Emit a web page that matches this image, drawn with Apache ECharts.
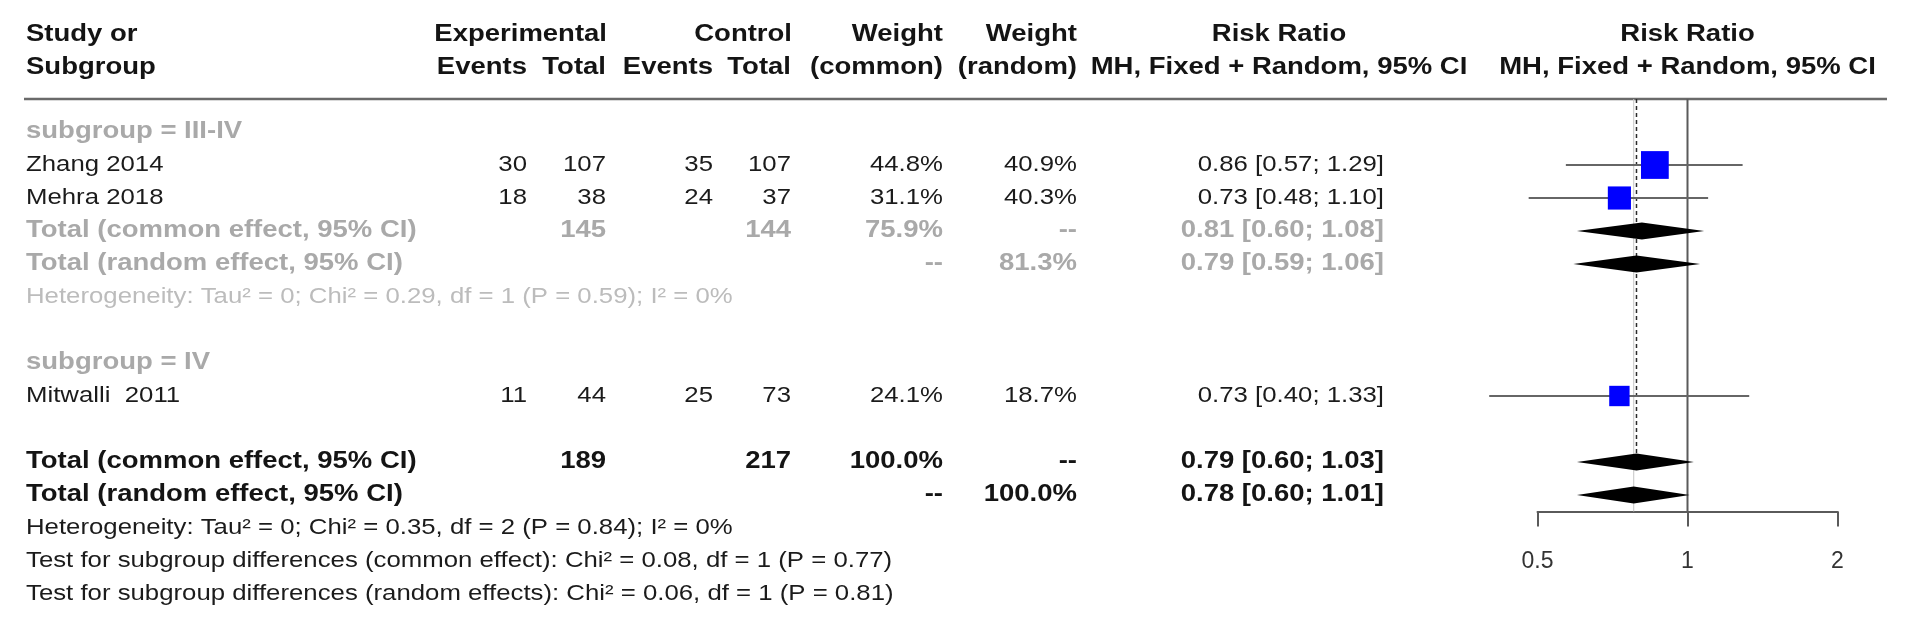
<!DOCTYPE html>
<html><head><meta charset="utf-8">
<script src="https://cdn.jsdelivr.net/npm/echarts@6/dist/echarts.min.js"></script>
<style>html,body{margin:0;padding:0;background:#fff}#c{width:1906px;height:630px}</style>
</head><body><div id="c"></div>
<script>
// ---------------- data ----------------
const headerTop = ['Study or', 'Experimental', 'Control', 'Weight', 'Weight', 'Risk Ratio', 'Risk Ratio'];
const headerBottom = ['Subgroup', 'Events', 'Total', 'Events', 'Total', '(common)', '(random)', 'MH, Fixed + Random, 95% CI', 'MH, Fixed + Random, 95% CI'];

const subgroupNames = ['subgroup = III-IV', 'subgroup = IV'];
const studies = ['Zhang 2014', 'Mehra 2018', 'Mitwalli  2011'];
const studySubgroup = [0, 0, 1];
const expEvents = [30, 18, 11];
const expTotal = [107, 38, 44];
const ctrlEvents = [35, 24, 25];
const ctrlTotal = [107, 37, 73];
const weightCommon = [44.8, 31.1, 24.1];
const weightRandom = [40.9, 40.3, 18.7];
const rr = [0.86, 0.73, 0.73];
const rrLower = [0.57, 0.48, 0.40];
const rrUpper = [1.29, 1.10, 1.33];

// pooled results of subgroup III-IV
const subExpTotal = [145];
const subCtrlTotal = [144];
const subWeightCommon = [75.9];
const subWeightRandom = [81.3];
const subCommon = [0.81, 0.60, 1.08];
const subRandom = [0.79, 0.59, 1.06];
const subHeterogeneity = 'Heterogeneity: Tau² = 0; Chi² = 0.29, df = 1 (P = 0.59); I² = 0%';

// overall
const totalExp = 189;
const totalCtrl = 217;
const totalWeight = [100.0, 100.0];
const overallCommon = [0.79, 0.60, 1.03];
const overallRandom = [0.78, 0.60, 1.01];
const footnotes = [
  'Heterogeneity: Tau² = 0; Chi² = 0.35, df = 2 (P = 0.84); I² = 0%',
  'Test for subgroup differences (common effect): Chi² = 0.08, df = 1 (P = 0.77)',
  'Test for subgroup differences (random effects): Chi² = 0.06, df = 1 (P = 0.81)'
];
const xTicks = [0.5, 1, 2];

// ---------------- layout ----------------
const FONT = '"Liberation Sans", Arial, Helvetica, sans-serif';
const X = {label: 26, expE: 527, expT: 606, ctlE: 713, ctlT: 791, wC: 943, wR: 1077,
           rrTxt: 1384, rrHead: 1279, plotHead: 1687.5, expHead: 607, ctlHead: 792};
const STY = {
  b:  {color: '#141414', size: 23.5, weight: 'bold',   sx: 1.17},
  n:  {color: '#1b1b1b', size: 22.5, weight: 'normal', sx: 1.145},
  gb: {color: '#a9a9a9', size: 23.5, weight: 'bold',   sx: 1.17},
  gl: {color: '#bcbcbc', size: 22.5, weight: 'normal', sx: 1.145}
};
const fmtRR = a => a[0].toFixed(2) + ' [' + a[1].toFixed(2) + '; ' + a[2].toFixed(2) + ']';
const fmtW = w => w.toFixed(1) + '%';

const cells = [];
const add = (x, row, text, align, kind) => cells.push({x, row, text: String(text), align, kind});

// header
const H1 = -2.94, H2 = -1.94;
const top_x = [X.label, X.expHead, X.ctlHead, X.wC, X.wR, X.rrHead, X.plotHead];
const top_a = ['left', 'right', 'right', 'right', 'right', 'center', 'center'];
headerTop.forEach((t, i) => add(top_x[i], H1, t, top_a[i], 'b'));
const bot_x = [X.label, X.expE, X.expT, X.ctlE, X.ctlT, X.wC, X.wR, X.rrHead, X.plotHead];
const bot_a = ['left', 'right', 'right', 'right', 'right', 'right', 'right', 'center', 'center'];
headerBottom.forEach((t, i) => add(bot_x[i], H2, t, bot_a[i], 'b'));

// body rows
const studyRow = [], subRows = [];
let r = 0;
subgroupNames.forEach((g, gi) => {
  add(X.label, r, g, 'left', 'gb'); r++;
  studies.forEach((s, i) => {
    if (studySubgroup[i] !== gi) return;
    studyRow[i] = r;
    add(X.label, r, s, 'left', 'n');
    add(X.expE, r, expEvents[i], 'right', 'n');
    add(X.expT, r, expTotal[i], 'right', 'n');
    add(X.ctlE, r, ctrlEvents[i], 'right', 'n');
    add(X.ctlT, r, ctrlTotal[i], 'right', 'n');
    add(X.wC, r, fmtW(weightCommon[i]), 'right', 'n');
    add(X.wR, r, fmtW(weightRandom[i]), 'right', 'n');
    add(X.rrTxt, r, fmtRR([rr[i], rrLower[i], rrUpper[i]]), 'right', 'n');
    r++;
  });
  if (gi === 0) {
    add(X.label, r, 'Total (common effect, 95% CI)', 'left', 'gb');
    add(X.expT, r, subExpTotal[0], 'right', 'gb');
    add(X.ctlT, r, subCtrlTotal[0], 'right', 'gb');
    add(X.wC, r, fmtW(subWeightCommon[0]), 'right', 'gb');
    add(X.wR, r, '--', 'right', 'gb');
    add(X.rrTxt, r, fmtRR(subCommon), 'right', 'gb');
    subRows.push({row: r, v: subCommon}); r++;
    add(X.label, r, 'Total (random effect, 95% CI)', 'left', 'gb');
    add(X.wC, r, '--', 'right', 'gb');
    add(X.wR, r, fmtW(subWeightRandom[0]), 'right', 'gb');
    add(X.rrTxt, r, fmtRR(subRandom), 'right', 'gb');
    subRows.push({row: r, v: subRandom}); r++;
    add(X.label, r, subHeterogeneity, 'left', 'gl'); r++;
  }
  r++;
});
const commonRow = r;
add(X.label, r, 'Total (common effect, 95% CI)', 'left', 'b');
add(X.expT, r, totalExp, 'right', 'b');
add(X.ctlT, r, totalCtrl, 'right', 'b');
add(X.wC, r, fmtW(totalWeight[0]), 'right', 'b');
add(X.wR, r, '--', 'right', 'b');
add(X.rrTxt, r, fmtRR(overallCommon), 'right', 'b');
r++;
const randomRow = r;
add(X.label, r, 'Total (random effect, 95% CI)', 'left', 'b');
add(X.wC, r, '--', 'right', 'b');
add(X.wR, r, fmtW(totalWeight[1]), 'right', 'b');
add(X.rrTxt, r, fmtRR(overallRandom), 'right', 'b');
r++;
footnotes.forEach(f => { add(X.label, r, f, 'left', 'n'); r++; });

// forest mark data
const DIAMOND_H = 8.5;
const diamonds = subRows.map(s => [s.v[0], s.v[1], s.v[2], s.row])
  .concat([[overallCommon[0], overallCommon[1], overallCommon[2], commonRow],
           [overallRandom[0], overallRandom[1], overallRandom[2], randomRow]]);
const ciData = studies.map((s, i) => [rrLower[i], rrUpper[i], studyRow[i]]);
const sqData = studies.map((s, i) => [rr[i], studyRow[i], weightCommon[i]]);
const ROW_MIN = -1, ROW_MAX = 11.5;
const refData = [
  [overallRandom[0], ROW_MIN, ROW_MAX, 'light'],
  [overallCommon[0], ROW_MIN, commonRow - DIAMOND_H / 33, 'dash'],
  [1, ROW_MIN, ROW_MAX, 'solid']
];

// ---------------- chart ----------------
const chart = echarts.init(document.getElementById('c'), null, {renderer: 'canvas'});
const yAx = gi => ({type: 'value', gridIndex: gi, inverse: true, min: ROW_MIN, max: ROW_MAX, show: false});
chart.setOption({
  animation: false,
  backgroundColor: '#ffffff',
  grid: [
    {left: 1537.5, width: 300, top: 99, height: 412.5, outerBoundsMode: 'none'},
    {left: 0, width: 1906, top: 99, height: 412.5, outerBoundsMode: 'none'}
  ],
  xAxis: [
    {type: 'log', logBase: 2, gridIndex: 0, position: 'bottom', min: xTicks[0], max: xTicks[xTicks.length - 1],
     axisLine: {show: true, onZero: false, lineStyle: {color: '#5a5a5a', width: 2}},
     axisTick: {show: true, length: 15, lineStyle: {color: '#5a5a5a', width: 2}},
     axisLabel: {margin: 50, verticalAlign: 'middle', fontSize: 23, color: '#333', fontFamily: FONT,
                 formatter: v => String(+(+v).toPrecision(3))},
     splitLine: {show: false}, minorTick: {show: false}},
    {type: 'value', gridIndex: 1, min: 0, max: 1906, show: false}
  ],
  yAxis: [yAx(0), yAx(1)],
  series: [
    {type: 'custom', name: 'rule', xAxisIndex: 1, yAxisIndex: 1, silent: true,
     data: [[24, ROW_MIN, 1887]], encode: {x: [0, 2], y: 1},
     renderItem: (p, api) => {
       const a = api.coord([api.value(0), api.value(1)]), b = api.coord([api.value(2), api.value(1)]);
       return {type: 'line', shape: {x1: a[0], y1: a[1], x2: b[0], y2: b[1]},
               style: {stroke: '#6a6a6a', lineWidth: 2.5}};
     }},
    {type: 'custom', name: 'table', xAxisIndex: 1, yAxisIndex: 1, silent: true,
     data: cells.map(c => [c.x, c.row]), encode: {x: 0, y: 1},
     renderItem: (p, api) => {
       const c = cells[p.dataIndex];
       const pt = api.coord([api.value(0), api.value(1)]);
       const st = STY[c.kind];
       return {type: 'text', x: pt[0], y: pt[1], scaleX: st.sx,
               style: {text: c.text, fill: st.color, fontSize: st.size, fontWeight: st.weight,
                       fontFamily: FONT, align: c.align, verticalAlign: 'middle'}};
     }},
    {type: 'custom', name: 'refLines', xAxisIndex: 0, yAxisIndex: 0, silent: true, z: 2,
     data: refData.map(d => [d[0], d[1], d[2]]), encode: {x: 0, y: [1, 2]},
     renderItem: (p, api) => {
       const kind = refData[p.dataIndex][3];
       const a = api.coord([api.value(0), api.value(1)]), b = api.coord([api.value(0), api.value(2)]);
       const style = kind === 'dash' ? {stroke: '#2a2a2a', lineWidth: 1.5, lineDash: [4, 3]}
                   : kind === 'light' ? {stroke: '#c4c4c4', lineWidth: 1}
                   : {stroke: '#5a5a5a', lineWidth: 2};
       return {type: 'line', shape: {x1: a[0], y1: a[1], x2: b[0], y2: b[1]}, style};
     }},
    {type: 'custom', name: 'ci', xAxisIndex: 0, yAxisIndex: 0, silent: true, z: 3,
     data: ciData, encode: {x: [0, 1], y: 2},
     renderItem: (p, api) => {
       const a = api.coord([api.value(0), api.value(2)]), b = api.coord([api.value(1), api.value(2)]);
       return {type: 'line', shape: {x1: a[0], y1: a[1], x2: b[0], y2: b[1]},
               style: {stroke: '#666', lineWidth: 2}};
     }},
    {type: 'scatter', name: 'studies', xAxisIndex: 0, yAxisIndex: 0, silent: true, z: 4,
     data: sqData, symbol: 'rect',
     symbolSize: v => 4.15 * Math.sqrt(v[2]),
     itemStyle: {color: '#0000ff', opacity: 1}},
    {type: 'custom', name: 'diamonds', xAxisIndex: 0, yAxisIndex: 0, silent: true, z: 5,
     data: diamonds, encode: {x: [0, 1, 2], y: 3},
     renderItem: (p, api) => {
       const c = api.coord([api.value(0), api.value(3)]);
       const l = api.coord([api.value(1), api.value(3)]);
       const h = api.coord([api.value(2), api.value(3)]);
       return {type: 'polygon',
               shape: {points: [[l[0], c[1]], [c[0], c[1] - DIAMOND_H], [h[0], c[1]], [c[0], c[1] + DIAMOND_H]]},
               style: {fill: '#000'}};
     }}
  ]
});
</script></body></html>
